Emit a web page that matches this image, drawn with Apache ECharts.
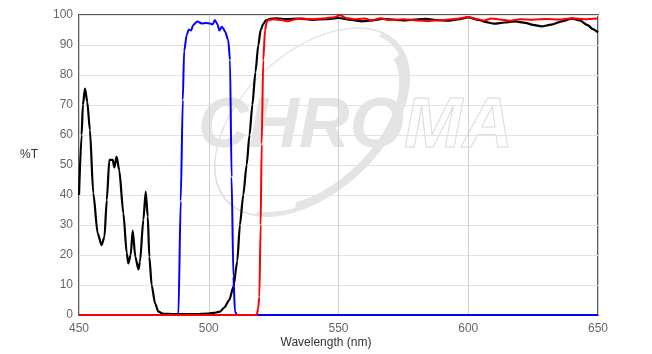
<!DOCTYPE html>
<html>
<head>
<meta charset="utf-8">
<script src="https://cdn.jsdelivr.net/npm/echarts@6/dist/echarts.min.js"></script>
<style>html,body{margin:0;padding:0;background:#fff}#c{width:652px;height:354px}</style>
</head>
<body>
<div id="c"></div>
<script>
// ---- data ----
const xTicks = [450, 500, 550, 600, 650];
const yTicks = [0, 10, 20, 30, 40, 50, 60, 70, 80, 90, 100];

const blackWl = [450, 451, 451.5, 452.3, 453.2, 454.2, 455.5, 457.2, 458.7, 459.8, 460.7, 461.7, 463, 463.6, 464.5, 465.5, 467.1, 468.4, 469, 469.9, 470.7, 471.7, 472.9, 473.5, 474.8, 475.7, 476.5, 477.1, 478, 479.3, 480.6, 482.5, 486, 490, 495, 500, 502, 504.3, 506, 507.9, 509.5, 511, 512, 513.3, 514.6, 515.7, 516.8, 518, 519.1, 520, 521, 522, 523.6, 526, 530, 535, 540, 545, 550, 555, 559, 563, 567, 572, 576, 580, 584, 588, 592, 596, 600, 604, 607, 610, 614, 618, 622, 625, 628.3, 632, 636, 640, 643, 646, 648, 650];
const blackT  = [40, 60, 70, 75.5, 71, 61.7, 40.6, 27.2, 23.3, 26, 38.3, 51.7, 51.7, 49.2, 52.8, 48.3, 33.9, 20.6, 17.2, 20, 28.1, 19.4, 15.2, 17.8, 31.7, 41.1, 32.8, 19.4, 10, 3.9, 1.1, 0.4, 0.3, 0.3, 0.3, 0.5, 0.7, 1.1, 2.5, 5, 9.4, 18, 30, 40, 50, 60, 70, 81, 90, 95, 97, 98.2, 98.7, 98.9, 98.6, 98.8, 98.4, 98.6, 99.0, 98.4, 97.9, 98.2, 98.7, 98.4, 98.2, 98.5, 98.7, 98.3, 98.1, 98.5, 99.2, 98.4, 97.6, 97.1, 97.5, 97.9, 97.4, 96.7, 96.2, 96.8, 97.9, 98.8, 98.2, 96.6, 95.3, 94.2];

const blueWl = [450, 488.3, 489.2, 490, 490.5, 491.5, 492.3, 493.2, 494, 495.6, 497.3, 499, 500.5, 501.4, 502.4, 503.3, 504.1, 505, 505.6, 506.3, 507.5, 508.2, 508.8, 509.5, 510.1, 511, 650];
const blueT  = [0, 0, 38, 71.7, 87.8, 93.3, 95.2, 94.8, 96.7, 97.8, 97.2, 97.3, 97.2, 96.8, 98.3, 97, 94.8, 96.1, 95.5, 94.4, 91.7, 85, 46, 12.8, 1.1, 0, 0];

const redWl = [450, 518.5, 519, 519.5, 520, 520.4, 521, 521.7, 522.3, 522.9, 525, 528, 530.7, 533, 536, 540, 545, 548, 550.6, 553, 556, 560, 563, 566, 570, 575, 580, 585, 590, 595, 600, 603, 606, 609, 612, 616, 620, 625, 630, 635, 640, 645, 650];
const redT  = [0, 0, 2, 6, 30, 57, 85, 95, 97.5, 98.3, 98.6, 98.3, 97.9, 98.5, 98.8, 98.6, 98.9, 99.2, 99.9, 99.0, 98.6, 98.8, 98.2, 98.9, 98.3, 98.6, 98.2, 98.0, 98.3, 98.7, 99.3, 98.7, 98.2, 98.8, 98.5, 98.1, 98.6, 98.4, 98.7, 98.5, 98.9, 98.6, 98.8];

const zip = (a, b) => a.map((v, i) => [v, b[i]]);
const FONT = '"Liberation Sans", Arial, sans-serif';

const chart = echarts.init(document.getElementById('c'), null, {renderer: 'canvas'});
const lineSeries = (name, wl, t, color, w) => ({
  name, type: 'line', data: zip(wl, t), showSymbol: false, symbol: 'none',
  smooth: 0.25, smoothMonotone: 'x', animation: false,
  lineStyle: {color, width: w}, itemStyle: {color}
});

const WM = '#e4e4e4';
chart.setOption({
  animation: false,
  backgroundColor: '#fff',
  grid: {left: 79, right: 54, top: 15, bottom: 39, show: true, borderColor: '#5a5a5a', borderWidth: 2, backgroundColor: 'transparent'},
  xAxis: {
    type: 'value', min: xTicks[0], max: xTicks[xTicks.length - 1], interval: 50,
    axisLine: {show: false}, axisTick: {show: false},
    axisLabel: {color: '#666', fontSize: 12, fontFamily: FONT, margin: 8},
    splitLine: {show: true, lineStyle: {color: '#d0d0d0', width: 1}}
  },
  yAxis: {
    type: 'value', min: yTicks[0], max: yTicks[yTicks.length - 1], interval: 10,
    axisLine: {show: false}, axisTick: {show: false},
    axisLabel: {color: '#666', fontSize: 12, fontFamily: FONT, margin: 6},
    splitLine: {show: true, lineStyle: {color: '#e3e3e3', width: 1}}
  },
  graphic: [
    {type: 'text', x: 198, y: 163, z: -10, silent: true,
     style: {text: 'CHRO', font: 'italic bold 70px ' + FONT, fill: WM, textVerticalAlign: 'bottom', verticalAlign: 'bottom'}},
    {type: 'text', x: 404, y: 163, z: -10, silent: true,
     style: {text: 'MA', font: 'italic bold 70px ' + FONT, fill: 'rgba(255,255,255,0)', stroke: '#dadada', lineWidth: 1, textVerticalAlign: 'bottom', verticalAlign: 'bottom'}},
    {
      type: 'group', x: 312, y: 122, rotation: 0.75, z: -9, silent: true,
      children: [
        {type: 'arc', shape: {cx: 0, cy: 0, r: 116, startAngle: Math.PI * 0.86, endAngle: Math.PI * 1.93}, scaleY: 0.6,
         style: {stroke: '#e2e2e2', lineWidth: 2, fill: null}},
        {type: 'arc', shape: {cx: 0, cy: 0, r: 114, startAngle: -Math.PI * 0.08, endAngle: Math.PI * 0.86}, scaleY: 0.6,
         style: {stroke: WM, lineWidth: 6, fill: null}},
        {type: 'arc', shape: {cx: 0, cy: 0, r: 110, startAngle: Math.PI * 0.05, endAngle: Math.PI * 0.72}, scaleY: 0.6,
         style: {stroke: WM, lineWidth: 12, fill: null}}
      ]
    },
    {type: 'text', x: 29, y: 155, silent: true,
     style: {text: '%T', font: '12px ' + FONT, fill: '#333', textAlign: 'center', textVerticalAlign: 'middle', align: 'center', verticalAlign: 'middle'}},
    {type: 'text', x: 326, y: 343, silent: true,
     style: {text: 'Wavelength (nm)', font: '12px ' + FONT, fill: '#333', textAlign: 'center', textVerticalAlign: 'middle', align: 'center', verticalAlign: 'middle'}}
  ],
  series: [
    lineSeries('Excitation', blackWl, blackT, '#000000', 2.2),
    lineSeries('Dichroic', blueWl, blueT, '#0000ff', 2),
    lineSeries('Emission', redWl, redT, '#ff0000', 2)
  ]
});
</script>
</body>
</html>
